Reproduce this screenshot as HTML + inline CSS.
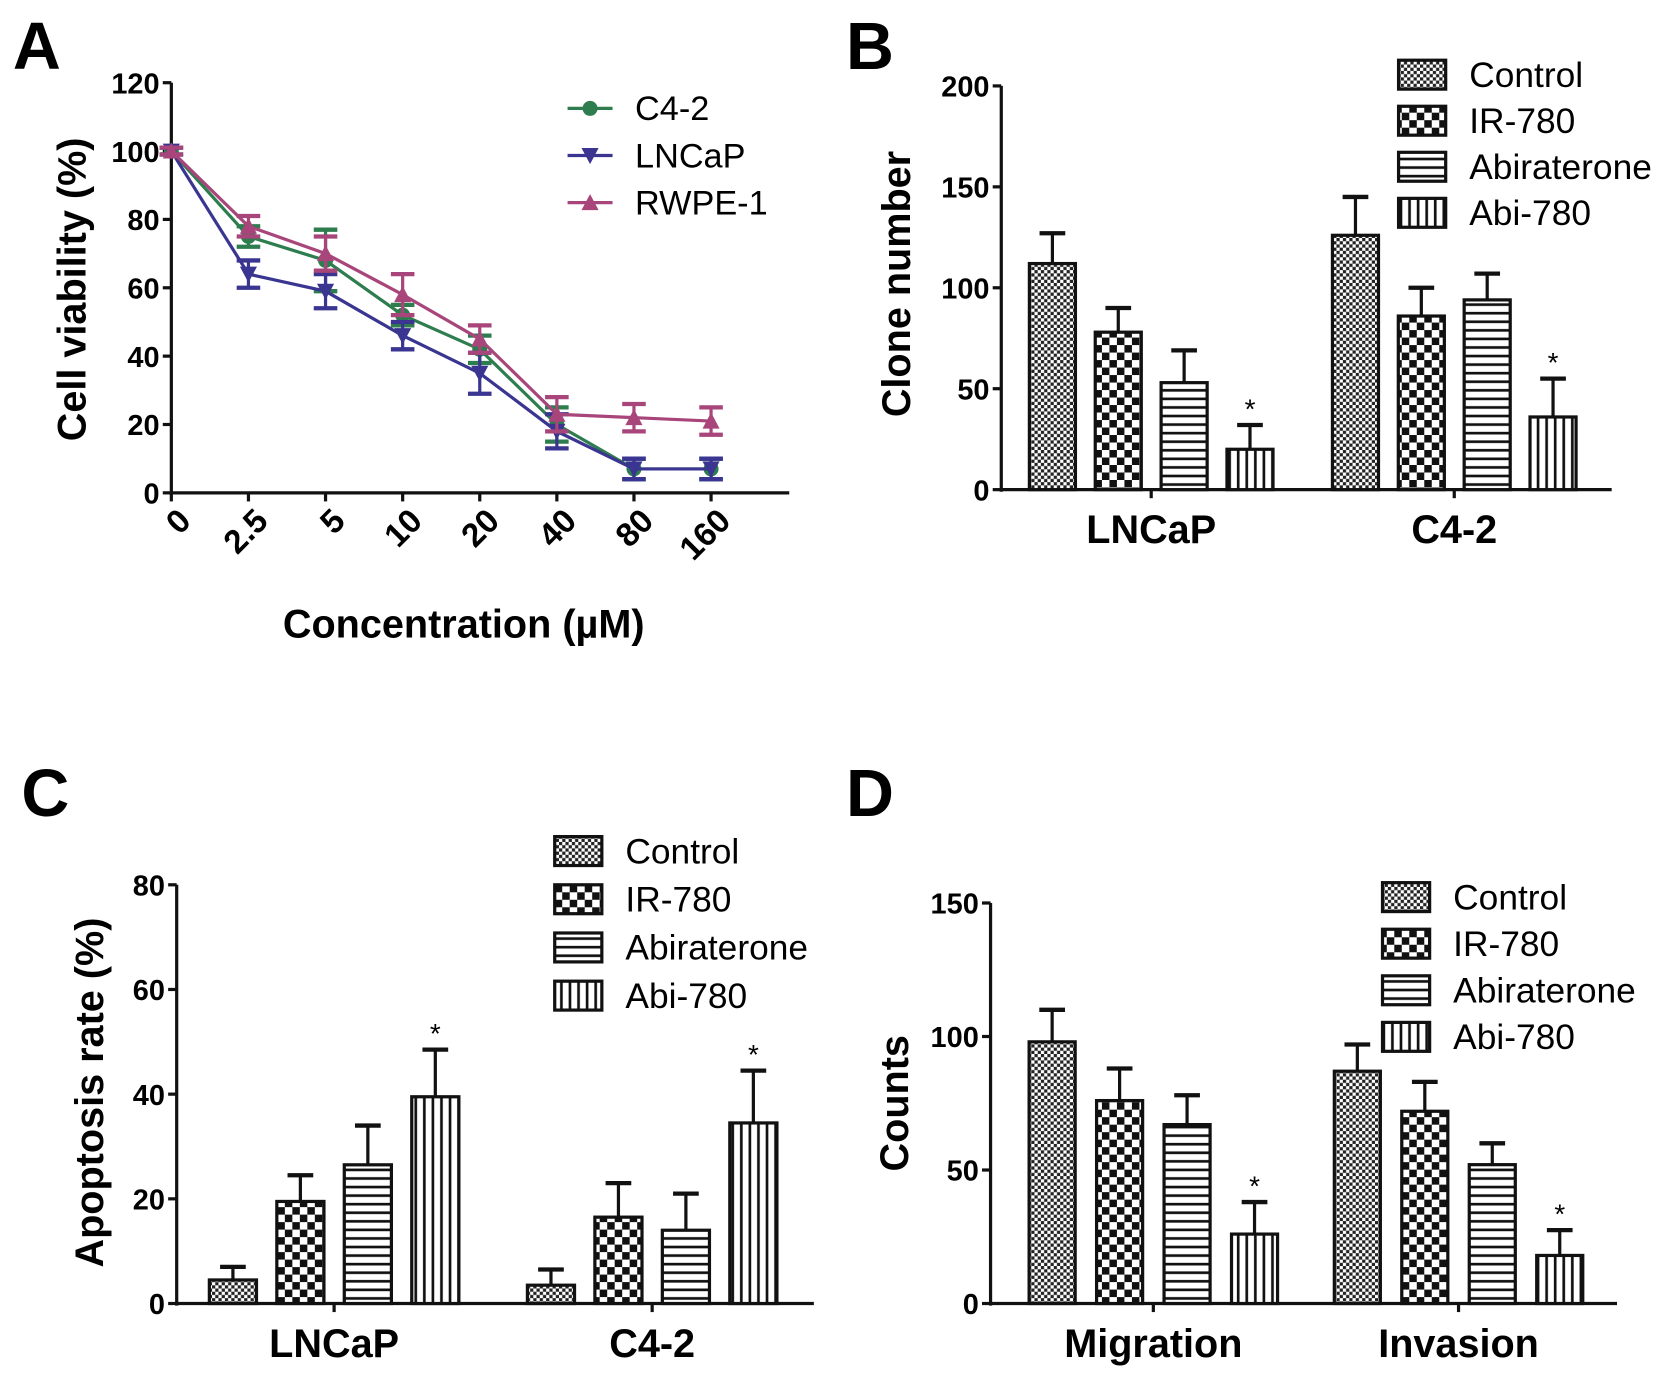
<!DOCTYPE html>
<html><head><meta charset="utf-8"><style>
html,body{margin:0;padding:0;background:#fff}
svg{display:block}
text{font-family:"Liberation Sans",Arial,sans-serif}
</style></head><body>
<svg id="fig" width="1677" height="1383" viewBox="0 0 1566 1291" xmlns="http://www.w3.org/2000/svg">
<defs>
<pattern id="pCtrl" width="6" height="6" patternUnits="userSpaceOnUse"><rect width="6" height="6" fill="#fff"/><rect width="3" height="3" fill="#222"/><rect x="3" y="3" width="3" height="3" fill="#222"/></pattern>
<pattern id="pIR" width="14" height="14" patternUnits="userSpaceOnUse"><rect width="14" height="14" fill="#fff"/><rect width="7" height="7" fill="#111"/><rect x="7" y="7" width="7" height="7" fill="#111"/></pattern>
<pattern id="pAbi" width="8" height="8" patternUnits="userSpaceOnUse"><rect width="8" height="8" fill="#fff"/><rect y="3" width="8" height="2.5" fill="#111"/></pattern>
<pattern id="pA780" width="8" height="8" patternUnits="userSpaceOnUse"><rect width="8" height="8" fill="#fff"/><rect x="3" width="2.5" height="8" fill="#111"/></pattern>
</defs>
<g id="root"></g>
</svg>
<script>
// Panel A data
const aCats = ["0","2.5","5","10","20","40","80","160"];
const aTicks = [0,20,40,60,80,100,120];
const aC42 = [100,75,68,52,42,20,7,7];
const aC42Err = [1,3,9,3,4,5,3,3];
const aLNCaP = [100,64,59,46,35,18,7,7];
const aLNCaPErr = [1,4,5,4,6,5,3,3];
const aRWPE = [100,78,70,58,45,23,22,21];
const aRWPEErr = [1,3,5,6,4,5,4,4];
// Panel B data
const bGroups = ["LNCaP","C4-2"];
const bTicks = [0,50,100,150,200];
const bCtrl = [112,126];
const bIR = [78,86];
const bAbi = [53,94];
const bA780 = [20,36];
const bErr = [[15,19],[12,14],[16,13],[12,19]];
// Panel C data
const cGroups = ["LNCaP","C4-2"];
const cTicks = [0,20,40,60,80];
const cCtrl = [4.5,3.5];
const cIR = [19.5,16.5];
const cAbi = [26.5,14];
const cA780 = [39.5,34.5];
const cErr = [[2.5,3],[5,6.5],[7.5,7],[9,10]];
// Panel D data
const dGroups = ["Migration","Invasion"];
const dTicks = [0,50,100,150];
const dCtrl = [98,87];
const dIR = [76,72];
const dAbi = [67,52];
const dA780 = [26,18];
const dErr = [[12,10],[12,11],[11,8],[12,9.5]];
const seriesNames = ["Control","IR-780","Abiraterone","Abi-780"];
const fills = ["url(#pCtrl)","url(#pIR)","url(#pAbi)","url(#pA780)"];

const NS="http://www.w3.org/2000/svg";
const root=document.getElementById('root');
function mk(tag,attrs,parent,txt){const e=document.createElementNS(NS,tag);for(const k in attrs)e.setAttribute(k,attrs[k]);if(txt!==undefined)e.textContent=txt;(parent||root).appendChild(e);return e;}
function line(x1,y1,x2,y2,c,w,p){return mk('line',{x1,y1,x2,y2,stroke:c,'stroke-width':w},p);}

function letter(t,x,y){
  const e=mk('text',{x,y,'font-size':62,'font-weight':'bold'},root,t);
  
  
}
function yAxis(g,x,ytop,ybot,ticks,yScale,title,tx,tcy){
  line(x,ytop,x,ybot+2,'#111',3,g);
  ticks.forEach(v=>{const y=yScale(v);line(x-8,y,x,y,'#111',3,g);
    const t=mk('text',{x:x-11,y:y+10,'font-size':27,'font-weight':'600','text-anchor':'end'},g,String(v));
    
    });
  const tt=mk('text',{x:tx,y:tcy,'font-size':37,'font-weight':'bold','text-anchor':'middle',transform:`rotate(-90 ${tx} ${tcy})`},g,title);
  
  
}

// ---------- Panel A ----------
letter('A',12,64);
(function(){
  const g=mk('g',{});
  
  
  const x0=160, step=72, y0=460, y120=77;
  const xS=i=>x0+i*step, yS=v=>y0-(y0-y120)*v/120;
  yAxis(g,x0,y120,y0,aTicks,yS,'Cell viability (%)',80,270);
  line(x0,y0,737,y0,'#111',3,g);
  aCats.forEach((c,i)=>{const x=xS(i);line(x,y0,x,y0+8,'#111',3,g);
    const t=mk('text',{x:x+20,y:y0+28,'font-size':31,'font-weight':'bold','text-anchor':'end',transform:`rotate(-45 ${x+20} ${y0+28})`},g,c);
    
    });
  const xt=mk('text',{x:433,y:595,'font-size':37,'font-weight':'bold','text-anchor':'middle'},g,'Concentration (\u00b5M)');
  
  
  const series=[[aC42,aC42Err,'#2e7d4f','circle','C4-2'],[aLNCaP,aLNCaPErr,'#3a3590','down','LNCaP'],[aRWPE,aRWPEErr,'#a8457a','up','RWPE-1']];
  function marker(x,y,shape,c,p){
    if(shape==='circle')return mk('circle',{cx:x,cy:y,r:7,fill:c},p);
    if(shape==='down')return mk('polygon',{points:`${x-8},${y-7} ${x+8},${y-7} ${x},${y+8}`,fill:c},p);
    return mk('polygon',{points:`${x-8},${y+7} ${x+8},${y+7} ${x},${y-8}`,fill:c},p);
  }
  series.forEach(([vals,errs,c,shape,name])=>{
    const sg=mk('g',{},g);
    
    
    mk('polyline',{points:vals.map((v,i)=>xS(i)+','+yS(v)).join(' '),fill:'none',stroke:c,'stroke-width':3},sg);
    vals.forEach((v,i)=>{const x=xS(i);const yt=yS(v+errs[i]),yb=yS(v-errs[i]);
      line(x,yt,x,yb,c,3,sg);line(x-11,yt,x+11,yt,c,4,sg);line(x-11,yb,x+11,yb,c,4,sg);
      const m=marker(x,yS(v),shape,c,sg);
      
      });
  });
  series.forEach(([v,e,c,shape,name],k)=>{const y=101+k*44;
    const lg=mk('g',{},g);
    
    
    line(530,y,572,y,c,3,lg);marker(551,y,shape,c,lg);
    mk('text',{x:593,y:y+11,'font-size':32},lg,name);});
})();

// ---------- Bar panels ----------
function barPanel(cfg){
  const g=mk('g',{});
  
  
  const yS=v=>cfg.y0-(cfg.y0-cfg.ytop)*v/cfg.vmax;
  yAxis(g,cfg.ax,cfg.ytop,cfg.y0,cfg.ticks,yS,cfg.title,cfg.tx,cfg.tcy);
  line(cfg.ax,cfg.y0,cfg.axEnd,cfg.y0,'#111',3,g);
  const series=[cfg.s0,cfg.s1,cfg.s2,cfg.s3];
  cfg.groups.forEach((gn,gi)=>{
    const gx=cfg.gx[gi];
    line(gx,cfg.y0,gx,cfg.y0+8,'#111',3,g);
    const gl=mk('text',{x:gx,y:cfg.y0+50,'font-size':37,'font-weight':'bold','text-anchor':'middle'},g,gn);
    
    
    series.forEach((s,si)=>{
      const v=s[gi], err=cfg.err[si][gi];
      const x=gx+(si-1.5)*cfg.step-cfg.bw/2;
      const yt=yS(v), ye=yS(v+err);
      line(x+cfg.bw/2,ye,x+cfg.bw/2,yt,'#111',3,g);
      line(x+cfg.bw/2-12,ye,x+cfg.bw/2+12,ye,'#111',4,g);
      const r=mk('rect',{x,y:yt,width:cfg.bw,height:cfg.y0-yt,fill:fills[si],stroke:'#111','stroke-width':3},g);
      
      
      if(si===3){const st=mk('text',{x:x+cfg.bw/2,y:ye-6,'font-size':26,'text-anchor':'middle'},g,'*');
        
        }
    });
  });
  seriesNames.forEach((n,k)=>{const y=cfg.ly+k*cfg.lstep;
    const lg=mk('g',{},g);
    
    
    mk('rect',{x:cfg.lx,y:y,width:44,height:27,fill:fills[k],stroke:'#111','stroke-width':3},lg);
    mk('text',{x:cfg.lx+66,y:y+25,'font-size':33},lg,n);});
}
letter('B',790,64);
barPanel({name:'panel-b-bar-chart',ax:935,axEnd:1505,y0:457,ytop:80,vmax:200,ticks:bTicks,title:'Clone number',tx:850,tcy:265,
  groups:bGroups,gx:[1075,1358],step:61.5,bw:43,s0:bCtrl,s1:bIR,s2:bAbi,s3:bA780,err:bErr,lx:1306,ly:56,lstep:43});
letter('C',20,762);
barPanel({name:'panel-c-bar-chart',ax:165,axEnd:760,y0:1217,ytop:826,vmax:80,ticks:cTicks,title:'Apoptosis rate (%)',tx:96,tcy:1020,
  groups:cGroups,gx:[312,609],step:63,bw:44,s0:cCtrl,s1:cIR,s2:cAbi,s3:cA780,err:cErr,lx:518,ly:781,lstep:45});
letter('D',790,762);
barPanel({name:'panel-d-bar-chart',ax:925,axEnd:1510,y0:1217,ytop:843,vmax:150,ticks:dTicks,title:'Counts',tx:848,tcy:1030,
  groups:dGroups,gx:[1077,1362],step:63,bw:43,s0:dCtrl,s1:dIR,s2:dAbi,s3:dA780,err:dErr,lx:1291,ly:824,lstep:43.5});
</script>
</body></html>
